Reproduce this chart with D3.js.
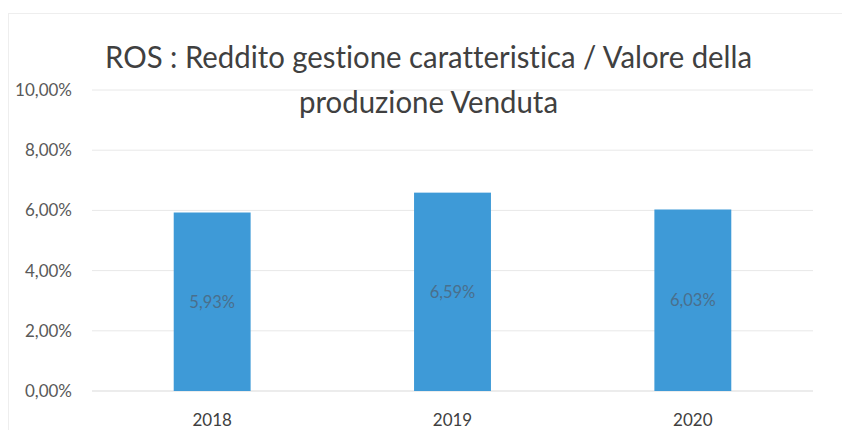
<!DOCTYPE html>
<html>
<head>
<meta charset="utf-8">
<script src="https://cdn.jsdelivr.net/npm/d3@7"></script>
<style>
  html, body { margin: 0; padding: 0; background: #fff; }
  svg { display: block; }
  text { font-variant-ligatures: none; }
</style>
</head>
<body>
<svg id="chart" width="842" height="430"></svg>
<script>
// ROS per anno
const years = ["2018", "2019", "2020"];
const rosValues = [5.93, 6.59, 6.03];
const yTicks = [0, 2, 4, 6, 8, 10];
const titleLines = ["ROS : Reddito gestione caratteristica / Valore della", "produzione Venduta"];

const fmt = v => v.toFixed(2).replace(".", ",") + "%";

const svg = d3.select("#chart");
const W = 842, H = 430;
const margin = { left: 92, right: 29, top: 90, bottom: 39 };
const font = "Lato, 'Open Sans', sans-serif";

// faint frame of the chart area
svg.append("rect")
  .attr("x", 8.5).attr("y", 13.5)
  .attr("width", W - 8).attr("height", H)
  .attr("fill", "none").attr("stroke", "#eeeeee");

const x = d3.scaleBand()
  .domain(years)
  .range([margin.left, W - margin.right])
  .paddingInner(0.68)
  .paddingOuter(0.34);

const y = d3.scaleLinear()
  .domain([0, 10])
  .range([H - margin.bottom, margin.top]);

// gridlines
svg.append("g")
  .selectAll("line")
  .data(yTicks)
  .join("line")
  .attr("x1", margin.left).attr("x2", W - margin.right)
  .attr("y1", d => y(d)).attr("y2", d => y(d))
  .attr("stroke", d => d === 0 ? "#d9d9d9" : "#e8e8e8")
  .attr("stroke-width", 1);

// y axis labels
const yAxis = d3.axisLeft(y).tickValues(yTicks).tickFormat(fmt).tickSize(0).tickPadding(20);
const gy = svg.append("g").attr("transform", `translate(${margin.left},0)`).call(yAxis);
gy.select(".domain").remove();
gy.selectAll("text")
  .attr("font-family", font).attr("font-size", 17).attr("fill", "#595959");

// x axis labels
const xAxis = d3.axisBottom(x).tickSize(0).tickPadding(23);
const gx = svg.append("g").attr("transform", `translate(0,${H - margin.bottom})`).call(xAxis);
gx.select(".domain").remove();
gx.selectAll("text")
  .attr("font-family", font).attr("font-size", 17).attr("fill", "#404040");

// bars
svg.append("g")
  .selectAll("rect")
  .data(years)
  .join("rect")
  .attr("x", d => x(d))
  .attr("width", x.bandwidth())
  .attr("y", (d, i) => y(rosValues[i]))
  .attr("height", (d, i) => y(0) - y(rosValues[i]))
  .attr("fill", "#3e9ad7");

// value labels inside bars
svg.append("g")
  .selectAll("text")
  .data(years)
  .join("text")
  .attr("x", d => x(d) + x.bandwidth() / 2)
  .attr("y", (d, i) => (y(rosValues[i]) + y(0)) / 2 + 6)
  .attr("text-anchor", "middle")
  .attr("font-family", font)
  .attr("font-size", 16.5)
  .attr("fill", "#4a6f8c")
  .text((d, i) => fmt(rosValues[i]));

// title, two centred lines
const titleWidths = [647, 259];
svg.append("g")
  .selectAll("text")
  .data(titleLines)
  .join("text")
  .attr("x", 428.5)
  .attr("y", (d, i) => 68 + i * 45)
  .attr("text-anchor", "middle")
  .attr("font-family", font)
  .attr("font-size", 30)
  .attr("fill", "#404040")
  .attr("textLength", (d, i) => titleWidths[i])
  .attr("lengthAdjust", "spacingAndGlyphs")
  .text(d => d);
</script>
</body>
</html>
